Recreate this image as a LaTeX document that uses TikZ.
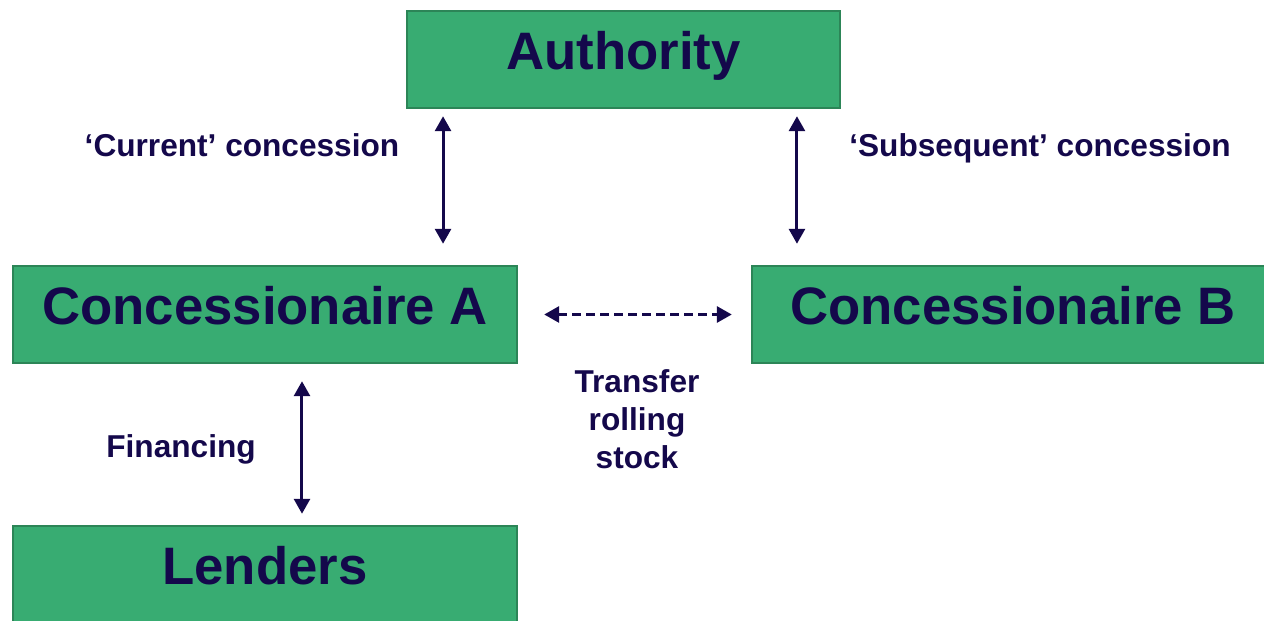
\documentclass[tikz,border=0pt]{standalone}
\usepackage{fontspec}
\setmainfont{Liberation Sans}
\usetikzlibrary{arrows.meta}
\definecolor{boxGreen}{RGB}{56,172,114}
\definecolor{boxEdge}{RGB}{44,133,87}
\definecolor{inkNavy}{RGB}{20,8,75}
\begin{document}
\begin{tikzpicture}
[x=0.02cm,y=-0.02cm,
  boxDecorate/.style={rectangle,fill=boxGreen,draw=boxEdge,line width=0.05cm,
    minimum height=1.94cm,inner sep=0pt,text=inkNavy,
    font=\fontsize{30}{36}\selectfont\bfseries,text height=0.8cm,text depth=0.4cm},%
  labelDecorate/.style={text=inkNavy,align=center,font=\fontsize{18}{21.6}\selectfont\bfseries},%
  lineDecorate/.style={{Triangle[width=0.32cm,length=0.3cm]}-{Triangle[width=0.32cm,length=0.3cm]},
    draw=inkNavy,line width=0.06cm}]
\useasboundingbox (0,0) rectangle (1264,621);
%% boxes
\foreach \nodename/\x/\y/\w/\txt in {
  auth/623.5/59.5/8.66cm/Authority, concA/265/314.5/10.08cm/Concessionaire A,
  concB/1013/314.5/10.44cm/Concessionaire B, lenders/265/574.5/10.08cm/Lenders}
{
  \node (\nodename) at (\x,\y) [boxDecorate,minimum width=\w] {\txt};
}
%% labels
\node (current) at (242,145) [labelDecorate] {‘Current’ concession};
\node (subsequent) at (1040,148) [labelDecorate] {‘Subsequent’ concession};
\node (financing) at (181,449) [labelDecorate] {Financing};
\node (transfer) at (637,419) [labelDecorate] {Transfer\\rolling\\stock};
%% arrows
\draw[lineDecorate,shorten <=0.14cm,shorten >=0.42cm]
  ([xshift=-3.61cm]auth.south) -- ([xshift=-3.61cm]auth.south |- concA.north);
\draw[lineDecorate,shorten <=0.14cm,shorten >=0.42cm]
  ([xshift=3.47cm]auth.south) -- ([xshift=3.47cm]auth.south |- concB.north);
\draw[lineDecorate,shorten <=0.34cm,shorten >=0.22cm]
  ([xshift=0.74cm]concA.south) -- ([xshift=0.74cm]concA.south |- lenders.north);
\draw[lineDecorate,dash pattern=on 0.18cm off 0.1cm,shorten <=0.52cm,shorten >=0.38cm]
  (concA.east) -- (concA.east -| concB.west);
\end{tikzpicture}
\end{document}
